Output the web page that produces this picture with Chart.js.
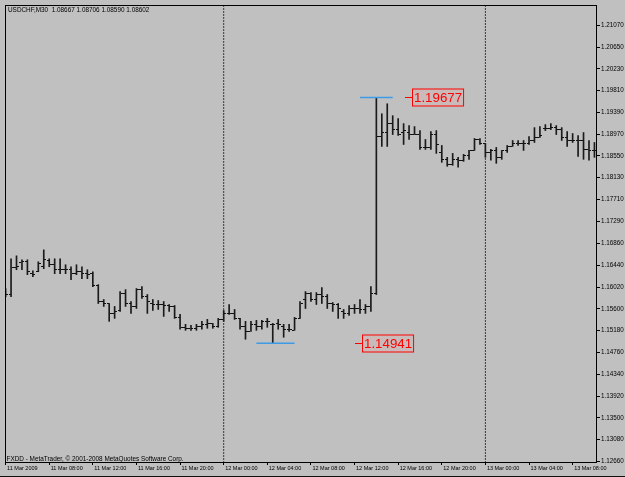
<!DOCTYPE html>
<html>
<head>
<meta charset="utf-8">
<script src="https://cdn.jsdelivr.net/npm/chart.js@4"></script>
<style>
  html, body { margin: 0; padding: 0; background: #c0c0c0; }
  canvas { display: block; }
</style>
</head>
<body>
<canvas id="myChart" width="625" height="477"></canvas>
<script>
// USDCHF M30 bars, one entry per bar (index 0 = 11 Mar 04:00, last = 13 Mar 10:00)
const opens = [
  1.15916, 1.15878, 1.16395, 1.16490, 1.16509, 1.16280, 1.16318, 1.16414, 1.16529, 1.16452,
  1.16356, 1.16356, 1.16356, 1.16280, 1.16318, 1.16280, 1.16280, 1.16050, 1.15743, 1.15705,
  1.15514, 1.15571, 1.15897, 1.15705, 1.15648, 1.15973, 1.15839, 1.15705, 1.15686, 1.15686,
  1.15667, 1.15648, 1.15437, 1.15246, 1.15227, 1.15227, 1.15265, 1.15303, 1.15322, 1.15265,
  1.15399, 1.15514, 1.15514, 1.15418, 1.15265, 1.15169, 1.15303, 1.15265, 1.15361, 1.15303,
  1.15322, 1.15265, 1.15208, 1.15188, 1.15418, 1.15782, 1.15897, 1.15782, 1.15878, 1.15839,
  1.15705, 1.15686, 1.15552, 1.15514, 1.15609, 1.15609, 1.15590, 1.15648, 1.15897, 1.18924,
  1.19001, 1.19173, 1.19058, 1.19001, 1.19001, 1.18963, 1.18963, 1.18714, 1.18714, 1.18963,
  1.18618, 1.18485, 1.18389, 1.18485, 1.18466, 1.18561, 1.18656, 1.18867, 1.18791, 1.18618,
  1.18656, 1.18523, 1.18656, 1.18733, 1.18791, 1.18791, 1.18791, 1.18848, 1.18905, 1.19077,
  1.19077, 1.19096, 1.19058, 1.18905, 1.18848, 1.18848, 1.18848, 1.18676, 1.18656
];
const highs = [
  1.15993, 1.16567, 1.16624, 1.16548, 1.16548, 1.16337, 1.16509, 1.16739, 1.16567, 1.16567,
  1.16567, 1.16452, 1.16414, 1.16452, 1.16414, 1.16356, 1.16318, 1.16069, 1.15782, 1.15705,
  1.15648, 1.15935, 1.15973, 1.15743, 1.15993, 1.16031, 1.15878, 1.15782, 1.15763, 1.15743,
  1.15686, 1.15667, 1.15495, 1.15303, 1.15284, 1.15303, 1.15361, 1.15399, 1.15322, 1.15418,
  1.15571, 1.15686, 1.15590, 1.15418, 1.15361, 1.15361, 1.15380, 1.15380, 1.15418, 1.15322,
  1.15399, 1.15303, 1.15303, 1.15437, 1.15743, 1.15935, 1.15916, 1.15916, 1.16012, 1.15878,
  1.15724, 1.15705, 1.15590, 1.15667, 1.15686, 1.15782, 1.15686, 1.16031, 1.19677, 1.19364,
  1.19556, 1.19326, 1.19269, 1.19173, 1.19135, 1.19116, 1.19039, 1.18867, 1.19020, 1.19039,
  1.18752, 1.18523, 1.18599, 1.18523, 1.18580, 1.18656, 1.18886, 1.18886, 1.18791, 1.18676,
  1.18714, 1.18656, 1.18752, 1.18848, 1.18848, 1.18848, 1.18924, 1.19096, 1.19116, 1.19154,
  1.19173, 1.19135, 1.19096, 1.19020, 1.18982, 1.18944, 1.19001, 1.18848, 1.18810
];
const lows = [
  1.15839, 1.15839, 1.16356, 1.16356, 1.16261, 1.16222, 1.16318, 1.16376, 1.16414, 1.16280,
  1.16280, 1.16280, 1.16165, 1.16261, 1.16184, 1.16184, 1.16031, 1.15705, 1.15648, 1.15361,
  1.15418, 1.15552, 1.15648, 1.15514, 1.15609, 1.15801, 1.15514, 1.15571, 1.15590, 1.15456,
  1.15552, 1.15418, 1.15208, 1.15188, 1.15188, 1.15188, 1.15208, 1.15227, 1.15227, 1.15246,
  1.15361, 1.15495, 1.15399, 1.15208, 1.15016, 1.15169, 1.15188, 1.15208, 1.15246, 1.14941,
  1.15208, 1.15054, 1.15169, 1.15188, 1.15418, 1.15609, 1.15743, 1.15686, 1.15705, 1.15609,
  1.15552, 1.15418, 1.15418, 1.15475, 1.15514, 1.15514, 1.15514, 1.15552, 1.15878, 1.18733,
  1.18733, 1.18963, 1.18944, 1.18771, 1.18867, 1.18963, 1.18676, 1.18676, 1.18676, 1.18599,
  1.18427, 1.18351, 1.18370, 1.18332, 1.18446, 1.18485, 1.18656, 1.18771, 1.18523, 1.18466,
  1.18408, 1.18485, 1.18618, 1.18733, 1.18752, 1.18656, 1.18771, 1.18810, 1.18905, 1.19039,
  1.19058, 1.18963, 1.18848, 1.18733, 1.18810, 1.18542, 1.18485, 1.18466, 1.18523
];
const closes = [
  1.15878, 1.16395, 1.16414, 1.16509, 1.16318, 1.16261, 1.16471, 1.16548, 1.16452, 1.16356,
  1.16356, 1.16356, 1.16280, 1.16318, 1.16280, 1.16261, 1.16050, 1.15743, 1.15705, 1.15514,
  1.15552, 1.15897, 1.15705, 1.15648, 1.15973, 1.15839, 1.15743, 1.15686, 1.15686, 1.15667,
  1.15648, 1.15437, 1.15246, 1.15227, 1.15227, 1.15265, 1.15303, 1.15322, 1.15265, 1.15399,
  1.15514, 1.15514, 1.15418, 1.15265, 1.15169, 1.15303, 1.15265, 1.15361, 1.15361, 1.15303,
  1.15303, 1.15208, 1.15208, 1.15418, 1.15705, 1.15897, 1.15782, 1.15878, 1.15839, 1.15705,
  1.15686, 1.15609, 1.15514, 1.15609, 1.15609, 1.15590, 1.15648, 1.15897, 1.18924, 1.19001,
  1.19173, 1.19058, 1.18963, 1.19039, 1.18963, 1.18963, 1.18714, 1.18714, 1.18963, 1.18771,
  1.18485, 1.18389, 1.18485, 1.18466, 1.18561, 1.18656, 1.18867, 1.18791, 1.18618, 1.18656,
  1.18523, 1.18656, 1.18733, 1.18791, 1.18791, 1.18791, 1.18848, 1.18905, 1.18944, 1.19077,
  1.19096, 1.19058, 1.18905, 1.18848, 1.18848, 1.18848, 1.18676, 1.18656, 1.18656
];

// time axis: bar index of each label, and its text
const xTickIdx = [0, 8, 16, 24, 32, 40, 48, 56, 64, 72, 80, 88, 96, 104];
const xTickLabels = [
  '11 Mar 2009', '11 Mar 08:00', '11 Mar 12:00', '11 Mar 16:00', '11 Mar 20:00',
  '12 Mar 00:00', '12 Mar 04:00', '12 Mar 08:00', '12 Mar 12:00', '12 Mar 16:00',
  '12 Mar 20:00', '13 Mar 00:00', '13 Mar 04:00', '13 Mar 08:00'
];
// price axis labels, as MetaTrader printed them
const yTickValues = [
  1.21070, 1.20650, 1.20230, 1.19810, 1.19390, 1.18970, 1.18550, 1.18130, 1.17710, 1.17290,
  1.16860, 1.16440, 1.16020, 1.15600, 1.15180, 1.14760, 1.14340, 1.13920, 1.13500, 1.13080,
  1.12660
];
// day separators (bar index of 00:00)
const daySeparators = [40, 88];
// marked extremes: price, and bar range of the blue marker line
const markPrices = [1.19677, 1.14941];
const markFrom = [65, 46];
const markTo = [71, 53];

const titleText = 'USDCHF,M30  1.08667 1.08706 1.08590 1.08602';
const footText = 'FXDD - MetaTrader, \u00A9 2001-2008 MetaQuotes Software Corp.';

const FONT = '"Liberation Sans", Arial, sans-serif';

// open tick sits left of the bar, close tick right of it
function tickImage(side) {
  const c = document.createElement('canvas');
  c.width = 5;
  c.height = 1;
  const g = c.getContext('2d');
  g.fillStyle = '#111';
  g.fillRect(side === 'left' ? 0 : 3, 0, 2, 1);
  return c;
}

const datasets = [];

// high-low range of every bar
datasets.push({
  type: 'bar',
  data: lows.map((l, i) => ({ x: i, y: [l, highs[i]] })),
  backgroundColor: '#1a1a1a',
  borderWidth: 0,
  barThickness: 1,
  order: 2
});
datasets.push({
  type: 'line',
  data: opens.map((v, i) => ({ x: i, y: v })),
  showLine: false,
  pointStyle: tickImage('left'),
  pointRadius: 2,
  order: 1
});
datasets.push({
  type: 'line',
  data: closes.map((v, i) => ({ x: i, y: v })),
  showLine: false,
  pointStyle: tickImage('right'),
  pointRadius: 2,
  order: 1
});

daySeparators.forEach(idx => {
  datasets.push({
    type: 'line',
    data: [{ x: idx, y: 1.1263 }, { x: idx, y: 1.2146 }],
    borderColor: '#3a3a3a',
    borderWidth: 1,
    borderDash: [2, 1],
    pointRadius: 0,
    order: 5
  });
});

markPrices.forEach((p, k) => {
  datasets.push({
    type: 'line',
    data: [{ x: markFrom[k], y: p }, { x: markTo[k], y: p }],
    borderColor: '#3c9ae6',
    borderWidth: 1.5,
    pointRadius: 0,
    order: 0
  });
});

// title, copyright, price labels and the frame round the plot
const mtOverlay = {
  id: 'mtOverlay',
  beforeDraw(chart) {
    const ctx = chart.ctx;
    ctx.save();
    ctx.fillStyle = '#c0c0c0';
    ctx.fillRect(0, 0, chart.width, chart.height);
    ctx.restore();
  },
  beforeDatasetsDraw(chart) {
    chart.ctx.imageSmoothingEnabled = false;
  },
  afterDatasetsDraw(chart, args, opts) {
    const { ctx, chartArea: a, scales: { x, y } } = chart;
    ctx.save();
    ctx.imageSmoothingEnabled = true;

    // red price labels
    ctx.font = '13.3px ' + FONT;
    ctx.textBaseline = 'middle';
    markPrices.forEach((p, k) => {
      const py = Math.round(y.getPixelForValue(p)) + 0.5;
      const px = Math.round(x.getPixelForValue(opts.labelAt[k]));
      const text = p.toFixed(5);
      const w = ctx.measureText(text).width;
      ctx.strokeStyle = '#ff0000';
      ctx.lineWidth = 1;
      ctx.beginPath();
      ctx.moveTo(px, py);
      ctx.lineTo(px + 7, py);
      ctx.stroke();
      ctx.fillStyle = 'rgba(255,160,160,0.18)';
      ctx.fillRect(px + 7, py - 8.5, w + 4, 17);
      ctx.strokeRect(px + 7.5, py - 8.5, w + 3, 17);
      ctx.fillStyle = '#ff0000';
      ctx.fillText(text, px + 9, py + 1);
    });

    ctx.font = '6.4px ' + FONT;
    ctx.fillStyle = '#000';
    ctx.textBaseline = 'middle';
    ctx.fillText(titleText, a.left + 3, a.top + 5.5);
    ctx.fillText(footText, a.left + 1.5, a.bottom - 3.5);

    ctx.strokeStyle = '#000';
    ctx.lineWidth = 1;
    ctx.strokeRect(a.left + 0.5, a.top + 0.5, a.right - a.left - 1, a.bottom - a.top - 1);

    ctx.fillStyle = '#111';
    ctx.fillRect(0, chart.height - 1, chart.width, 1);
    ctx.restore();
  }
};

const chartConfig = {
  type: 'bar',
  data: { datasets: datasets },
  options: {
    responsive: false,
    animation: false,
    devicePixelRatio: 1,
    layout: { padding: { left: 2, top: 2, right: 0, bottom: 0 } },
    plugins: {
      legend: { display: false },
      tooltip: { enabled: false },
      mtOverlay: { labelAt: [73.2, 64.1] }
    },
    scales: {
      x: {
        type: 'linear',
        min: -0.11,
        max: 108.47,
        offset: false,
        grid: { offset: false, drawOnChartArea: false, drawTicks: true, tickLength: 2, color: '#000' },
        border: { display: false },
        afterBuildTicks: s => { s.ticks = xTickIdx.map(v => ({ value: v })); },
        afterFit: s => { s.height = 14; s.paddingLeft = 0; s.paddingRight = 0; },
        ticks: {
          autoSkip: false,
          maxRotation: 0,
          minRotation: 0,
          align: 'start',
          labelOffset: 1.5,
          padding: 0,
          color: '#000',
          font: { family: FONT, size: 5.5 },
          callback: (v, i) => xTickLabels[i]
        }
      },
      y: {
        type: 'linear',
        position: 'right',
        min: 1.1263,
        max: 1.2146,
        beginAtZero: false,
        grid: { drawOnChartArea: false, drawTicks: true, tickLength: 3, color: '#000' },
        border: { display: false },
        afterBuildTicks: s => { s.ticks = yTickValues.map(v => ({ value: v })); },
        afterFit: s => { s.width = 28; s.paddingTop = 0; s.paddingBottom = 0; },
        ticks: {
          padding: 1,
          color: '#000',
          font: { family: FONT, size: 6.3 },
          callback: v => v.toFixed(5)
        }
      }
    }
  },
  plugins: [mtOverlay]
};

const ctx = document.getElementById('myChart');
const mtChart = new Chart(ctx, chartConfig);
</script>
</body>
</html>
